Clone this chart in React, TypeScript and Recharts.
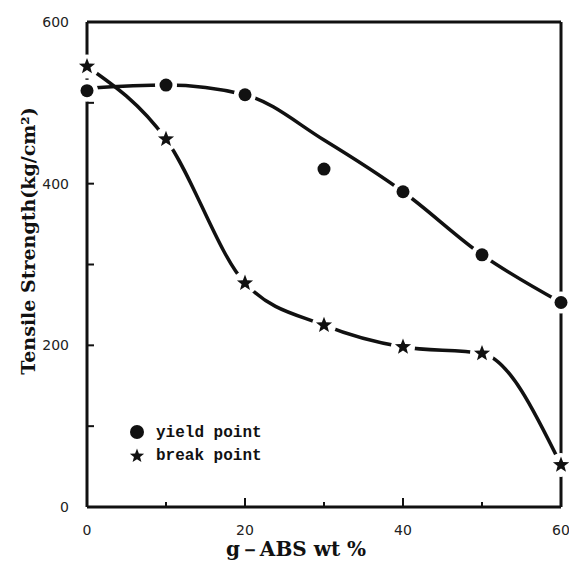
import { LineChart, Line, XAxis, YAxis, ReferenceLine, Legend, Label } from "recharts";

const absContent = [0, 10, 20, 30, 40, 50, 60];
const yieldPoint = [515, 522, 510, 418, 390, 312, 253];
const breakPoint = [545, 455, 277, 225, 198, 190, 52];
// smooth curve drawn through the yield points
const yieldFit = [518, 522, 510, 454, 390, 312, 253];

const xTicks = [0, 10, 20, 30, 40, 50, 60];
const xLabels = [0, 20, 40, 60];
const yTicks = [0, 100, 200, 300, 400, 500, 600];
const yLabels = [0, 200, 400, 600];

const data = absContent.map((x, i) => ({
  x,
  yieldPoint: yieldPoint[i],
  breakPoint: breakPoint[i],
  yieldFit: yieldFit[i],
}));

const INK = "#111";
const tickFont = { fontFamily: "DejaVu Sans", fontSize: 14, fill: "#222" };
const titleFont = "'DejaVu Serif', 'Liberation Serif', serif";

function starPath(cx: number, cy: number, ro: number, ri: number) {
  let d = "";
  for (let k = 0; k < 10; k++) {
    const r = k % 2 === 0 ? ro : ri;
    const a = -Math.PI / 2 + (k * Math.PI) / 5;
    d += `${k === 0 ? "M" : "L"}${cx + r * Math.cos(a)},${cy + r * Math.sin(a)}`;
  }
  return d + "Z";
}

function StarDot({ cx, cy }: any) {
  if (cx == null || cy == null) return null;
  return (
    <g>
      <circle cx={cx} cy={cy} r={12} fill="#fff" />
      <path d={starPath(cx, cy, 8.5, 3.6)} fill={INK} />
    </g>
  );
}

function CircleDot({ cx, cy }: any) {
  if (cx == null || cy == null) return null;
  return (
    <g>
      <circle cx={cx} cy={cy} r={11} fill="#fff" />
      <circle cx={cx} cy={cy} r={6.5} fill={INK} />
    </g>
  );
}

function XTick({ x, y, payload }: any) {
  const v = payload.value;
  const major = xLabels.includes(v);
  return (
    <g>
      {v > 0 && v < 60 && (
        <line x1={x} x2={x} y1={y} y2={y - (major ? 9 : 5)} stroke={INK} strokeWidth={2} />
      )}
      {major && (
        <text x={x} y={y + 28} textAnchor="middle" {...tickFont}>
          {v}
        </text>
      )}
    </g>
  );
}

function YTick({ x, y, payload }: any) {
  const v = payload.value;
  return (
    <g>
      {v > 0 && v < 600 && <line x1={x} x2={x + 7} y1={y} y2={y} stroke={INK} strokeWidth={2} />}
      {yLabels.includes(v) && (
        <text x={x - 18} y={y + 5} textAnchor="end" {...tickFont}>
          {v}
        </text>
      )}
    </g>
  );
}

function LegendBox() {
  const font = { fontFamily: "Liberation Mono", fontWeight: 700, fontSize: 16, fill: INK };
  return (
    <svg width={150} height={50}>
      <circle cx={9} cy={12} r={7} fill={INK} />
      <text x={28} y={17} {...font}>yield point</text>
      <path d={starPath(9, 36, 7.5, 3.2)} fill={INK} />
      <text x={28} y={40} {...font}>break point</text>
    </svg>
  );
}

export default function App() {
  return (
    <div style={{ position: "absolute", left: 0, top: 0, background: "#fff" }}>
      <LineChart width={569} height={564} data={data} margin={{ top: 22, right: 8, bottom: 0, left: 0 }}>
        <XAxis
          dataKey="x"
          type="number"
          domain={[0, 60]}
          ticks={xTicks}
          height={57}
          tickSize={0}
          tickMargin={0}
          tick={<XTick />}
          tickLine={false}
          axisLine={{ stroke: INK, strokeWidth: 3 }}
        >
          <Label
            content={() => (
              <text
                x={296}
                y={556}
                textAnchor="middle"
                fontFamily={titleFont}
                fontWeight={700}
                fontSize={20}
                fill={INK}
              >
                g－ABS  wt %
              </text>
            )}
          />
        </XAxis>
        <YAxis
          type="number"
          domain={[0, 600]}
          ticks={yTicks}
          width={87}
          tickSize={0}
          tickMargin={0}
          tick={<YTick />}
          tickLine={false}
          axisLine={{ stroke: INK, strokeWidth: 3 }}
        >
          <Label
            content={() => (
              <text
                x={35}
                y={241}
                transform="rotate(-90 35 241)"
                textAnchor="middle"
                fontFamily={titleFont}
                fontWeight={700}
                fontSize={19}
                fill={INK}
              >
                Tensile Strength(kg/cm²)
              </text>
            )}
          />
        </YAxis>
        <ReferenceLine y={600} stroke={INK} strokeWidth={3} />
        <ReferenceLine x={60} stroke={INK} strokeWidth={3} />
        <Line
          dataKey="yieldFit"
          type="monotone"
          stroke={INK}
          strokeWidth={3.5}
          dot={false}
          activeDot={false}
          isAnimationActive={false}
        />
        <Line
          dataKey="breakPoint"
          type="monotone"
          stroke={INK}
          strokeWidth={3.5}
          dot={<StarDot />}
          activeDot={false}
          isAnimationActive={false}
        />
        <Line
          dataKey="yieldPoint"
          stroke="none"
          dot={<CircleDot />}
          activeDot={false}
          isAnimationActive={false}
        />
        <Legend
          layout="horizontal"
          verticalAlign="middle"
          align="center"
          content={() => <LegendBox />}
          wrapperStyle={{ position: "absolute", left: 128, top: 420, width: 150 }}
        />
      </LineChart>
    </div>
  );
}
